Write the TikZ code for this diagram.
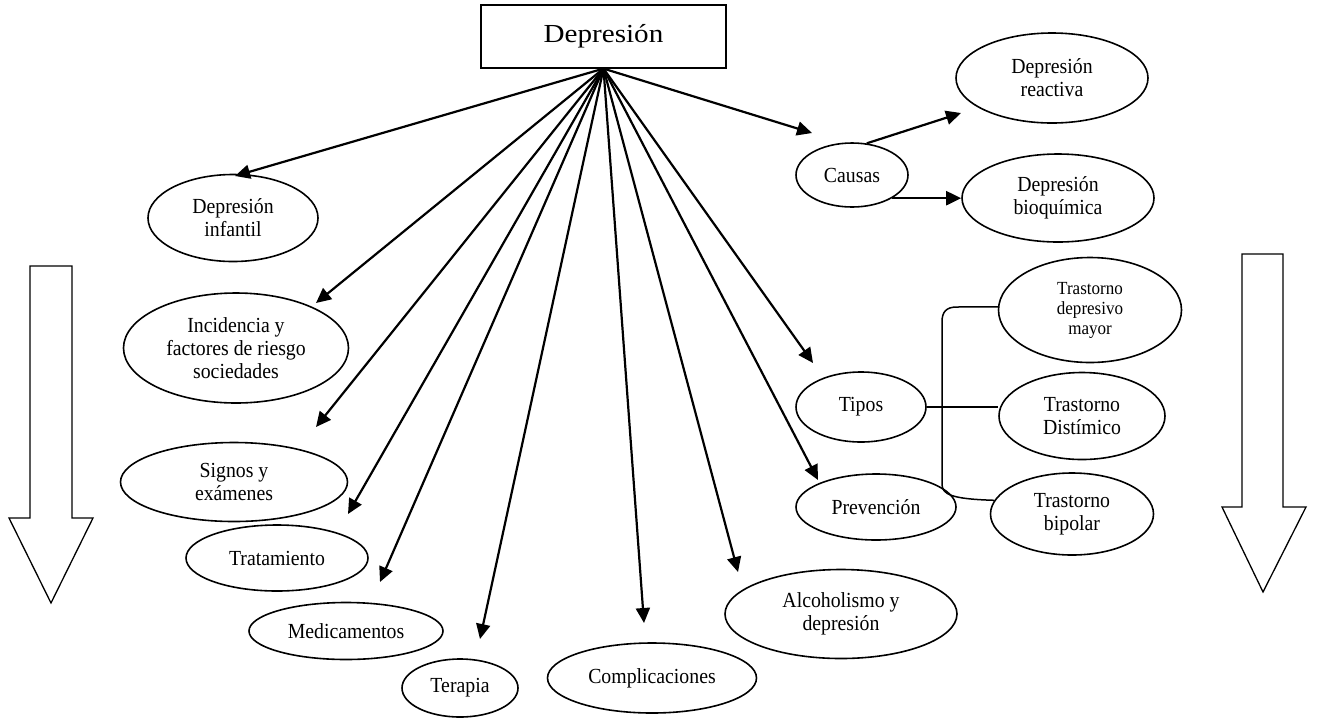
\documentclass[tikz,border=0pt]{standalone}
\usepackage{fontspec}
\setmainfont{Liberation Serif}[FakeStretch=0.92]
\newfontfamily\titlefont{Liberation Serif}[FakeStretch=1.12]
\usetikzlibrary{arrows.meta,shapes.geometric,calc}
\begin{document}
\begin{tikzpicture}[x=1pt,y=-1pt,
  ell/.style={ellipse,draw,line width=1.6pt,inner sep=0pt,align=center,font=\fontsize{21.5}{23}\selectfont},
  ellsmall/.style={ell,font=\fontsize{18.5}{20}\selectfont},
  arr/.style={-{Triangle[length=15pt,width=14pt]},line width=2.2pt},
  bline/.style={line width=1.5pt},
  bigarrow/.style={draw,line width=1.3pt,line join=miter}]
\useasboundingbox (0,0) rectangle (1317,724);

% title box
\node[draw,line width=1.2pt,minimum width=245pt,minimum height=63pt,inner sep=0pt,
      font=\titlefont\fontsize{26}{30}\selectfont] (dep) at (603.5,36.5) {Depresión};

% left ellipses
\node[ell,minimum width=170pt,minimum height=87pt]  (inf) at (233,218) {Depresión\\infantil};
\node[ell,minimum width=225pt,minimum height=110pt] (inc) at (236,348) {Incidencia y\\factores de riesgo\\sociedades};
\node[ell,minimum width=227pt,minimum height=79pt]  (sig) at (234,482) {Signos y\\exámenes};
\node[ell,minimum width=182pt,minimum height=66pt]  (tra) at (277,558) {Tratamiento};
\node[ell,minimum width=194pt,minimum height=57pt]  (med) at (346,631) {Medicamentos};
\node[ell,minimum width=116pt,minimum height=58pt]  (ter) at (460,688) {Terapia};
\node[ell,minimum width=209pt,minimum height=70pt]  (com) at (652,678) {Complicaciones};
\node[ell,minimum width=232pt,minimum height=89pt]  (alc) at (841,614) {Alcoholismo y\\depresión};

% right ellipses
\node[ell,minimum width=112pt,minimum height=64pt]  (cau) at (852,175) {Causas};
\node[ell,minimum width=192pt,minimum height=90pt]  (rea) at (1052,78) {Depresión\\reactiva};
\node[ell,minimum width=192pt,minimum height=88pt]  (bio) at (1058,198) {Depresión\\bioquímica};
\node[ell,minimum width=130pt,minimum height=70pt]  (tip) at (861,407) {Tipos};
\node[ell,minimum width=160pt,minimum height=66pt]  (pre) at (876,507) {Prevención};
\node[ellsmall,minimum width=183pt,minimum height=105pt] (may) at (1090,310) {Trastorno\\depresivo\\mayor};
\node[ell,minimum width=166pt,minimum height=87pt]  (dis) at (1082,416) {Trastorno\\Distímico};
\node[ell,minimum width=163pt,minimum height=82pt]  (bip) at (1072,514) {Trastorno\\bipolar};

% arrow tips
\coordinate (tInf) at (235,176);
\coordinate (tInc) at (316,303);
\coordinate (tSig) at (316,427);
\coordinate (tTra) at (348,514);
\coordinate (tMed) at (380,582);
\coordinate (tTer) at (480,639);
\coordinate (tCom) at (644,623);
\coordinate (tAlc) at (738,572);
\coordinate (tPre) at (818,480);
\coordinate (tTip) at (813,363);
\coordinate (tCau) at (812,133);
\coordinate (tRea) at (961,113);

\foreach \t in {tInf,tInc,tSig,tTra,tMed,tTer,tCom,tAlc,tPre,tTip,tCau}
  \draw[arr] (dep.south) -- (\t);

\draw[arr] (cau.65) -- (tRea);
\draw[arr] (cau.-30) -- (cau.-30 -| bio.west);

% tipos bracket
\draw[bline] (tip.east) -- (tip.east -| dis.west);
\draw[bline] (may.178) -- (957,307) .. controls (946,307) and (942,312) .. (942,322)
  -- (942,484) .. controls (942,494) and (950,499) .. (bip.170);

% big hollow arrows
\draw[bigarrow] (30,266) -- (72,266) -- (72,518) -- (93,518) -- (51,603) -- (9,518) -- (30,518) -- cycle;
\draw[bigarrow] (1242,254) -- (1283,254) -- (1283,507) -- (1306,507) -- (1263,592) -- (1222,507) -- (1242,507) -- cycle;
\end{tikzpicture}
\end{document}
